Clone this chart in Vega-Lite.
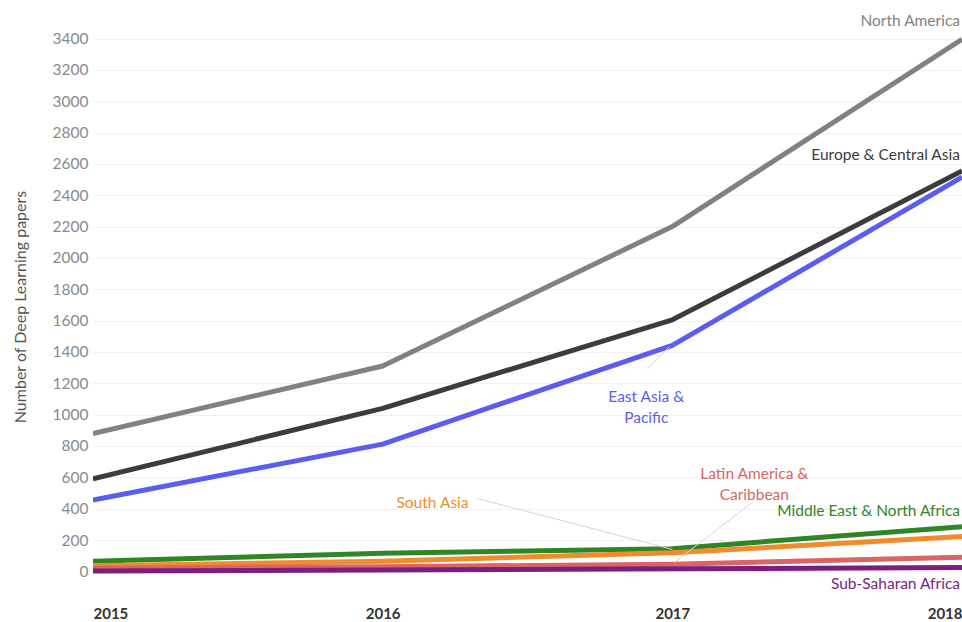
{
  "$schema": "https://vega.github.io/schema/vega-lite/v6.json",
  "autosize": {"type": "none"},
  "width": 869,
  "height": 583,
  "padding": {"left": 93, "top": 15, "right": 0, "bottom": 24},
  "background": "white",
  "config": {
    "view": {"stroke": null},
    "font": "Lato",
    "axis": {"labelFont": "Lato", "titleFont": "Lato", "labelOverlap": false}
  },
  "datasets": {
    "series": [
      {"region": "North America", "year": 2015, "papers": 880},
      {"region": "North America", "year": 2016, "papers": 1310},
      {"region": "North America", "year": 2017, "papers": 2200},
      {"region": "North America", "year": 2018, "papers": 3395},
      {"region": "Europe & Central Asia", "year": 2015, "papers": 590},
      {"region": "Europe & Central Asia", "year": 2016, "papers": 1040},
      {"region": "Europe & Central Asia", "year": 2017, "papers": 1605},
      {"region": "Europe & Central Asia", "year": 2018, "papers": 2555},
      {"region": "East Asia & Pacific", "year": 2015, "papers": 455},
      {"region": "East Asia & Pacific", "year": 2016, "papers": 812},
      {"region": "East Asia & Pacific", "year": 2017, "papers": 1442},
      {"region": "East Asia & Pacific", "year": 2018, "papers": 2515},
      {"region": "Middle East & North Africa", "year": 2015, "papers": 65},
      {"region": "Middle East & North Africa", "year": 2016, "papers": 115},
      {"region": "Middle East & North Africa", "year": 2017, "papers": 145},
      {"region": "Middle East & North Africa", "year": 2018, "papers": 285},
      {"region": "South Asia", "year": 2015, "papers": 35},
      {"region": "South Asia", "year": 2016, "papers": 65},
      {"region": "South Asia", "year": 2017, "papers": 118},
      {"region": "South Asia", "year": 2018, "papers": 222},
      {"region": "Latin America & Caribbean", "year": 2015, "papers": 20},
      {"region": "Latin America & Caribbean", "year": 2016, "papers": 30},
      {"region": "Latin America & Caribbean", "year": 2017, "papers": 45},
      {"region": "Latin America & Caribbean", "year": 2018, "papers": 90},
      {"region": "Sub-Saharan Africa", "year": 2015, "papers": 3},
      {"region": "Sub-Saharan Africa", "year": 2016, "papers": 8},
      {"region": "Sub-Saharan Africa", "year": 2017, "papers": 16},
      {"region": "Sub-Saharan Africa", "year": 2018, "papers": 24}
    ],
    "rightLabels": [
      {"region": "North America", "label": "North America", "year": 2018, "papers": 3512},
      {"region": "Europe & Central Asia", "label": "Europe & Central Asia", "year": 2018, "papers": 2655},
      {"region": "Middle East & North Africa", "label": "Middle East & North Africa", "year": 2018, "papers": 382},
      {"region": "Sub-Saharan Africa", "label": "Sub-Saharan Africa", "year": 2018, "papers": -78}
    ],
    "centerLabels": [
      {"region": "East Asia & Pacific", "label": ["East Asia &", "Pacific"], "year": 2016.91, "papers": 1160},
      {"region": "Latin America & Caribbean", "label": ["Latin America &", "Caribbean"], "year": 2017.283, "papers": 668},
      {"region": "South Asia", "label": ["South Asia"], "year": 2016.172, "papers": 480}
    ],
    "leaders": [
      {"from_year": 2016.324, "from_papers": 466, "to_year": 2017.0, "to_papers": 140},
      {"from_year": 2017.276, "from_papers": 440, "to_year": 2017.007, "to_papers": 57},
      {"from_year": 2016.914, "from_papers": 1290, "to_year": 2016.99, "to_papers": 1435}
    ]
  },
  "resolve": {"scale": {"color": "shared"}},
  "layer": [
    {
      "data": {"name": "series"},
      "mark": {"type": "line", "strokeWidth": 5, "strokeCap": "butt", "strokeJoin": "round", "clip": true},
      "encoding": {
        "x": {
          "field": "year", "type": "quantitative",
          "scale": {"domain": [2015, 2018], "nice": false, "zero": false},
          "axis": {
            "title": null, "values": [2015, 2016, 2017, 2018], "format": "d",
            "labelFlush": true, "domain": false, "ticks": false, "grid": false,
            "labelFontWeight": "bold", "labelFontSize": 15, "labelColor": "#333333",
            "labelPadding": 8
          }
        },
        "y": {
          "field": "papers", "type": "quantitative",
          "scale": {"domain": [-170, 3550], "nice": false, "zero": false},
          "axis": {
            "title": "Number of Deep Learning papers",
            "titleFontSize": 16, "titleFontWeight": "normal", "titleColor": "#555555",
            "titlePadding": 24,
            "values": [0, 200, 400, 600, 800, 1000, 1200, 1400, 1600, 1800, 2000, 2200, 2400, 2600, 2800, 3000, 3200, 3400],
            "tickCount": 40,
            "format": "d", "labelOverlap": false,
            "labelFontSize": 15.5, "labelColor": "#8a8a8a", "labelPadding": 5,
            "domain": false, "ticks": false,
            "grid": true, "gridColor": "#f0f0f0", "gridWidth": 1
          }
        },
        "color": {
          "field": "region", "type": "nominal", "legend": null,
          "scale": {
            "domain": ["North America", "Europe & Central Asia", "East Asia & Pacific", "Middle East & North Africa", "South Asia", "Latin America & Caribbean", "Sub-Saharan Africa"],
            "range": ["#818181", "#3c3c3c", "#5a5cf2", "#2f8625", "#f28a2e", "#db6465", "#7a1e80"]
          }
        },
        "order": {"field": "year"},
        "detail": {"field": "region"}
      }
    },
    {
      "data": {"name": "leaders"},
      "mark": {"type": "rule", "stroke": "#d4d4d4", "strokeWidth": 1},
      "encoding": {
        "x": {"field": "from_year", "type": "quantitative"},
        "y": {"field": "from_papers", "type": "quantitative"},
        "x2": {"field": "to_year"},
        "y2": {"field": "to_papers"}
      }
    },
    {
      "data": {"name": "rightLabels"},
      "mark": {"type": "text", "align": "right", "baseline": "middle", "fontSize": 15.5, "dx": -2},
      "encoding": {
        "x": {"field": "year", "type": "quantitative"},
        "y": {"field": "papers", "type": "quantitative"},
        "text": {"field": "label"},
        "color": {"field": "region", "type": "nominal", "legend": null}
      }
    },
    {
      "data": {"name": "centerLabels"},
      "mark": {"type": "text", "align": "center", "baseline": "top", "fontSize": 15.5, "lineHeight": 21},
      "encoding": {
        "x": {"field": "year", "type": "quantitative"},
        "y": {"field": "papers", "type": "quantitative"},
        "text": {"field": "label"},
        "color": {"field": "region", "type": "nominal", "legend": null}
      }
    }
  ]
}
